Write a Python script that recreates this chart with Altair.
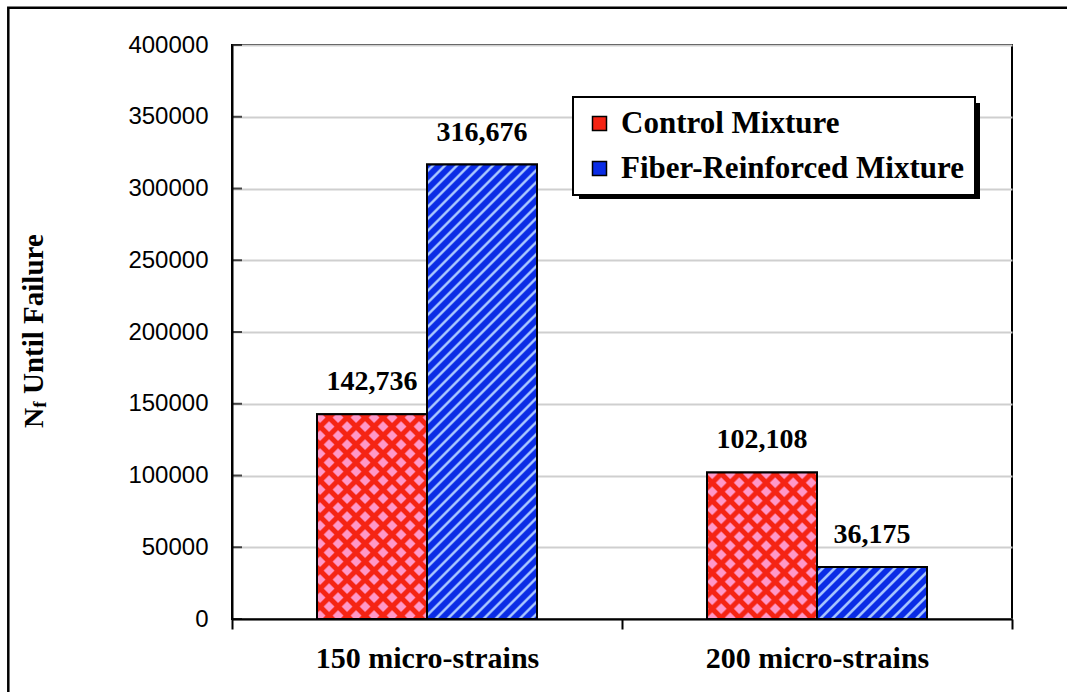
import altair as alt
import pandas as pd

# ---- data -------------------------------------------------------------
strains = ["150 micro-strains", "200 micro-strains"]
mixtures = ["Control Mixture", "Fiber-Reinforced Mixture"]
control_cycles = [142736, 102108]
fiber_cycles = [316676, 36175]
y_ticks = [0, 50000, 100000, 150000, 200000, 250000, 300000, 350000, 400000]

# ---- layout / style ---------------------------------------------------
PLOT_W, PLOT_H = 780, 574
Y_MAX = 400000
BAR_W = 110
SERIF = "Liberation Serif"
SANS = "Liberation Sans"

RED, PINK = "#f52414", "#ff98c8"
RED_CLEAR = "rgba(245,36,20,0)"
BLUE, LIGHT_BLUE = "#0a2ce6", "#a8c6ff"

rows = []
for s, c, f in zip(strains, control_cycles, fiber_cycles):
    rows.append({"strain": s, "mixture": mixtures[0], "cycles": c})
    rows.append({"strain": s, "mixture": mixtures[1], "cycles": f})
df = pd.DataFrame(rows)
one = pd.DataFrame({"k": [0]})
ticks_df = pd.DataFrame({"cycles": y_ticks})


def stripe_fill(w, h, period, bands, direction):
    """Linear gradient that repeats `bands` every `period` px along a 45 deg diagonal."""
    span = w + h
    k = span / (w * w + h * h)
    if direction == "/":
        x1, y1, x2, y2 = 0, 0, w * k, h * k
    else:
        x1, y1, x2, y2 = 0, 1, w * k, 1 - h * k
    stops = []
    n = int(span // period) + 2
    for i in range(n):
        for frac, col in bands:
            off = (i + frac) * period / span
            if off <= 1:
                stops.append({"offset": round(off, 6), "color": col})
    return {"gradient": "linear", "x1": x1, "y1": y1, "x2": x2, "y2": y2, "stops": stops}


diamond_a = [(0.0, RED), (0.12, PINK), (0.6, PINK), (0.72, RED)]
diamond_b = [(0.0, RED), (0.12, RED_CLEAR), (0.6, RED_CLEAR), (0.72, RED)]
stripes = [(0.0, BLUE), (0.35, BLUE), (0.5, LIGHT_BLUE), (0.65, LIGHT_BLUE), (0.8, BLUE)]

pad_outer = (PLOT_W / 2 / BAR_W - 2) / 2

x_enc = alt.X(
    "strain:N",
    title=None,
    scale=alt.Scale(domain=strains, paddingInner=0, paddingOuter=0),
    axis=alt.Axis(
        labelFont=SERIF, labelFontWeight="bold", labelFontSize=30, labelColor="black",
        labelAngle=0, labelPadding=14, tickBand="extent", tickSize=10, tickColor="black",
        tickWidth=2, domainColor="black", domainWidth=2, grid=False, labelLimit=400,
    ),
)
xo_enc = alt.XOffset(
    "mixture:N",
    scale=alt.Scale(domain=mixtures, paddingInner=0, paddingOuter=pad_outer),
)
y_enc = alt.Y(
    "cycles:Q",
    title=None,
    scale=alt.Scale(domain=[0, Y_MAX], nice=False),
    axis=alt.Axis(
        values=y_ticks, format="d", labelFont=SANS, labelFontSize=24, labelColor="black",
        labelPadding=24, ticks=False, tickSize=0, grid=True, gridColor="#cfcfcf",
        gridWidth=2, domainColor="black", domainWidth=2,
    ),
)

# base bars (carry the legend)
base = alt.Chart(df).mark_bar(stroke="black", strokeWidth=2).encode(
    x=x_enc,
    xOffset=xo_enc,
    y=y_enc,
    color=alt.Color(
        "mixture:N",
        title=None,
        scale=alt.Scale(domain=mixtures, range=[RED, BLUE]),
        legend=alt.Legend(
            orient="none", legendX=341, legendY=52, direction="vertical",
            symbolType="square", symbolSize=196, symbolStrokeColor="black",
            symbolStrokeWidth=1.5, labelFont=SERIF, labelFontWeight="bold",
            labelFontSize=31, labelColor="black", labelOffset=6, rowPadding=13,
            padding=11, symbolOffset=0, strokeColor="black", fillColor="white",
            labelLimit=600,
        ),
    ),
)

# patterned fills, one layer per bar
pattern_layers = []
for row in rows:
    h = row["cycles"] / Y_MAX * PLOT_H
    sel = (alt.datum.strain == row["strain"]) & (alt.datum.mixture == row["mixture"])
    if row["mixture"] == mixtures[0]:
        fills = [stripe_fill(BAR_W, h, 18, diamond_a, "/"),
                 stripe_fill(BAR_W, h, 18, diamond_b, "\\")]
    else:
        fills = [stripe_fill(BAR_W, h, 12, stripes, "/")]
    for fill in fills:
        pattern_layers.append(
            alt.Chart(df).transform_filter(sel).mark_bar(fill=fill).encode(
                x=x_enc, xOffset=xo_enc, y=y_enc
            )
        )

outline = alt.Chart(df).mark_bar(fillOpacity=0, stroke="black", strokeWidth=2).encode(
    x=x_enc, xOffset=xo_enc, y=y_enc
)

labels = alt.Chart(df).mark_text(
    font=SERIF, fontWeight="bold", fontSize=28, color="black", baseline="alphabetic", dy=-24
).encode(x=x_enc, xOffset=xo_enc, y=y_enc, text=alt.Text("cycles:Q", format=",d"))

# inward tick marks on the value axis
inner_ticks = alt.Chart(ticks_df).mark_tick(
    orient="horizontal", size=10, thickness=2, color="black"
).encode(y=y_enc, x=alt.value(5))

# legend drop shadow
shadow = alt.Chart(one).mark_rect(color="black").encode(
    x=alt.value(347), x2=alt.value(748), y=alt.value(58), y2=alt.value(154)
)

# outer frame around the figure
frame = alt.Chart(one).mark_rect(fillOpacity=0, stroke="black", strokeWidth=2.5).encode(
    x=alt.value(-223.7), x2=alt.value(PLOT_W + 80), y=alt.value(-37.2), y2=alt.value(PLOT_H + 100)
)

# value-axis title with subscript f
title_font = dict(font=SERIF, fontWeight="bold", color="black", angle=270,
                  align="left", baseline="alphabetic")
t_n = alt.Chart(one).mark_text(fontSize=28, **title_font).encode(
    x=alt.value(-189), y=alt.value(383), text=alt.value("N"))
t_f = alt.Chart(one).mark_text(fontSize=19, **title_font).encode(
    x=alt.value(-186), y=alt.value(362.8), text=alt.value("f"))
t_rest = alt.Chart(one).mark_text(fontSize=29, **title_font).encode(
    x=alt.value(-189), y=alt.value(349), text=alt.value("Until Failure"))

chart = alt.layer(
    frame, shadow, base, *pattern_layers, outline, inner_ticks, labels, t_n, t_f, t_rest
).properties(
    width=PLOT_W,
    height=PLOT_H,
    padding={"left": 232, "top": 45, "right": 55, "bottom": 73},
    autosize=alt.AutoSizeParams(type="none"),
).configure_view(
    stroke="black", strokeWidth=2
).configure_legend(
    strokeWidth=2
)

chart.save("out.html", embed_options={"renderer": "svg", "actions": False})
